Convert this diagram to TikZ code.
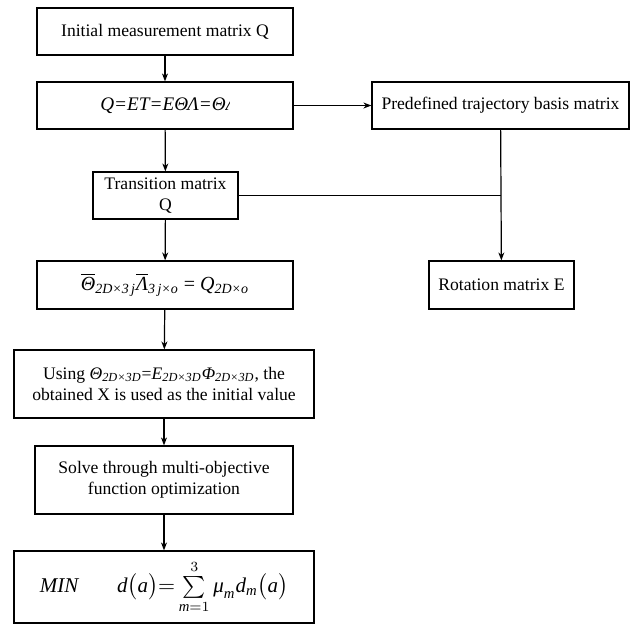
\documentclass[tikz,border=0pt]{standalone}
\usepackage{amsmath}
\usepackage{trimclip}
\usepackage{fontspec}
\setmainfont{Liberation Serif}
\usetikzlibrary{arrows.meta}

% italic symbol with italic subscript, set in the text font
\newcommand{\isub}[2]{\textit{#1}\textsubscript{\textit{#2}}}

\tikzset{
  box/.style={draw, line width=0.6pt, align=center, inner sep=1pt, font=\fontsize{8.8}{10.6}\selectfont},
  flow/.style={line width=0.6pt, -{Stealth[length=4pt,width=3pt]}},
  link/.style={line width=0.6pt}
}

\begin{document}
\begin{tikzpicture}[x=0.5pt, y=-0.5pt]
  \useasboundingbox (0,0) rectangle (637,629);
  % Left column
  \node[box, minimum width=128pt, minimum height=23.5pt] (init) at (165,31.5) {Initial measurement matrix Q};
  \node[box, minimum width=128pt, minimum height=23.5pt, font=\fontsize{9.6}{12}\selectfont] (eq) at (165,105.5)
    {\textit{Q=ET=EΘΛ=Θ}\clipbox{0pt 0pt 0.4em 0pt}{\textit{Λ}}};
  \node[box, minimum width=72.5pt, minimum height=23.5pt] (trans) at (165.5,195.5) {Transition matrix\\Q};
  \node[box, minimum width=128pt, minimum height=24pt, font=\fontsize{10}{12}\selectfont] (theta) at (165,285)
    {$\overline{\textit{Θ}}$\textsubscript{\textit{2D×3\,j}}$\overline{\textit{Λ}}$\textsubscript{\textit{3\,j×o}} = \isub{Q}{2D×o}};
  \node[box, minimum width=150pt, minimum height=34pt] (using) at (164,384)
    {Using \isub{Θ}{2D×3D}=\isub{E}{2D×3D}\isub{Φ}{2D×3D}, the\\obtained X is used as the initial value};
  \node[box, minimum width=129pt, minimum height=34pt] (solve) at (164,480) {Solve through multi-objective\\function optimization};
  \node[box, minimum width=150pt, minimum height=36pt, font=\fontsize{10.5}{12}\selectfont] (min) at (164,587)
    {\textit{MIN}\hspace{1.8em}$\textit{d}\bigl(\textit{a}\bigr){=}\sum\limits_{\textit{m}=1}^{3}\textit{μ}_{\textit{m}}\textit{d}_{\textit{m}}\bigl(\textit{a}\bigr)$};
  % Right column
  \node[box, minimum width=128.5pt, minimum height=23.5pt] (basis) at (500.5,105.5) {Predefined trajectory basis matrix};
  \node[box, minimum width=72.5pt, minimum height=24pt] (rot) at (501.5,285) {Rotation matrix E};
  \coordinate (join) at (basis.south |- trans.east);
  % Connectors
  \draw[flow] (init) -- (eq);
  \draw[flow] (eq) -- (basis);
  \draw[flow] (eq) -- (trans);
  \draw[flow] (trans) -- (theta);
  \draw[flow] (theta) -- (using);
  \draw[flow] (using) -- (solve);
  \draw[flow] (solve) -- (min);
  \draw[flow] (basis) -- (rot);
  \draw[link] (trans.east) -- (join);
\end{tikzpicture}
\end{document}
